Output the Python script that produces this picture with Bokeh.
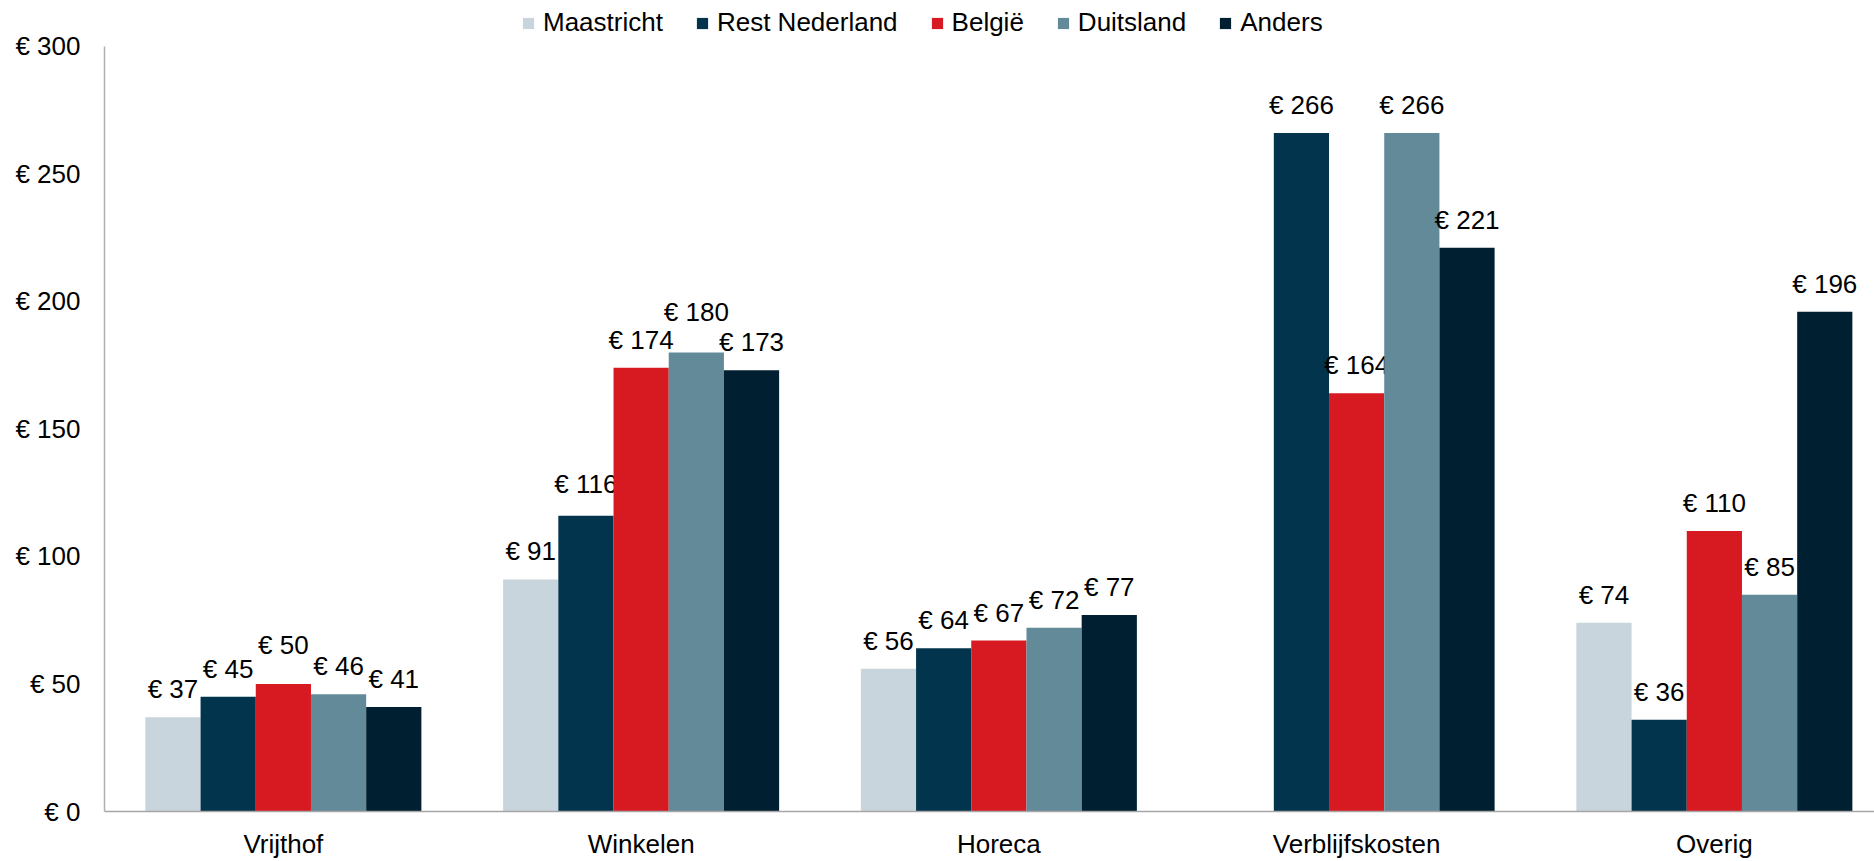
from bokeh.plotting import figure
from bokeh.models import ColumnDataSource, Range1d, FixedTicker, Legend, LegendItem
from bokeh.embed import file_html
from bokeh.resources import INLINE

# ---- data ----
categories = ["Vrijthof", "Winkelen", "Horeca", "Verblijfskosten", "Overig"]
series_names = ["Maastricht", "Rest Nederland", "België", "Duitsland", "Anders"]
maastricht = [37, 91, 56, None, 74]
rest_nederland = [45, 116, 64, 266, 36]
belgie = [50, 174, 67, 164, 110]
duitsland = [46, 180, 72, 266, 85]
anders = [41, 173, 77, 221, 196]
y_ticks = [0, 50, 100, 150, 200, 250, 300]
y_tick_labels = ["€ 0", "€ 50", "€ 100", "€ 150", "€ 200", "€ 250", "€ 300"]

series_values = [maastricht, rest_nederland, belgie, duitsland, anders]
colors = ["#C8D5DC", "#02344D", "#D71A21", "#628A99", "#001F30"]

# label nudges (extra pixels upward) where the original moved labels to avoid overlap
label_nudge = {("België", "Vrijthof"): 11, ("Duitsland", "Winkelen"): 12, ("Rest Nederland", "Winkelen"): 4}

FONT = "Liberation Sans"
FS = "26px"
bar_w = 0.1543
y_max = 300
# frame reaches the top of the figure so the legend can sit inside it; axis line stops at y_max
y_top = y_max * 813 / 767

p = figure(width=1874, height=861, output_backend="svg", toolbar_location=None,
           x_range=Range1d(0, 4.9476), y_range=Range1d(0, y_top),
           min_border_left=104, min_border_right=0, min_border_top=0, min_border_bottom=48,
           tools="")
p.outline_line_color = None
p.xgrid.visible = False
p.ygrid.visible = False
p.background_fill_color = "white"

items = []
for k, (name, vals, col) in enumerate(zip(series_names, series_values, colors)):
    xs, tops, labels, offs = [], [], [], []
    for i, (cat, v) in enumerate(zip(categories, vals)):
        if v is None:
            continue
        xs.append(i + 0.5 + (k - 2) * bar_w)
        tops.append(v)
        labels.append(f"€ {v}")
        offs.append(-28 - label_nudge.get((name, cat), 0))
    src = ColumnDataSource(dict(x=xs, top=tops, label=labels, off=offs))
    r = p.vbar(x="x", top="top", width=bar_w, bottom=0, source=src,
               fill_color=col, line_color=None)
    p.text(x="x", y="top", text="label", y_offset="off", source=src,
           text_align="center", text_baseline="alphabetic",
           text_font_size=FS, text_color="black", text_font={"value": FONT})
    items.append(LegendItem(label=name, renderers=[r]))

# axes
p.yaxis.bounds = (0, y_max)
p.yaxis.ticker = FixedTicker(ticks=y_ticks)
p.yaxis.major_label_overrides = {t: l for t, l in zip(y_ticks, y_tick_labels)}
p.yaxis.major_tick_line_color = None
p.yaxis.minor_tick_line_color = None
p.yaxis.major_tick_out = 0
p.yaxis.major_label_standoff = 24
p.yaxis.axis_line_color = "#B0B0B0"
p.yaxis.axis_line_width = 1.5
p.yaxis.major_label_text_font = FONT
p.yaxis.major_label_text_font_size = FS
p.yaxis.major_label_text_color = "black"

x_ticks = [i + 0.5 for i in range(len(categories))]
p.xaxis.ticker = FixedTicker(ticks=x_ticks)
p.xaxis.major_label_overrides = {t: c for t, c in zip(x_ticks, categories)}
p.xaxis.major_tick_line_color = None
p.xaxis.minor_tick_line_color = None
p.xaxis.major_tick_out = 0
p.xaxis.major_label_standoff = 17
p.xaxis.axis_line_color = "#A6A6A6"
p.xaxis.axis_line_width = 1.5
p.xaxis.major_label_text_font = FONT
p.xaxis.major_label_text_font_size = FS
p.xaxis.major_label_text_color = "black"

legend = Legend(items=items, orientation="horizontal", location=(417, 773),
                glyph_width=14, glyph_height=14, label_standoff=8, spacing=32,
                label_height=30, padding=0, margin=0, border_line_color=None,
                background_fill_alpha=0,
                label_text_font=FONT, label_text_font_size=FS, label_text_color="black")
p.add_layout(legend, "center")

open("out.html", "w").write(file_html(p, INLINE))
